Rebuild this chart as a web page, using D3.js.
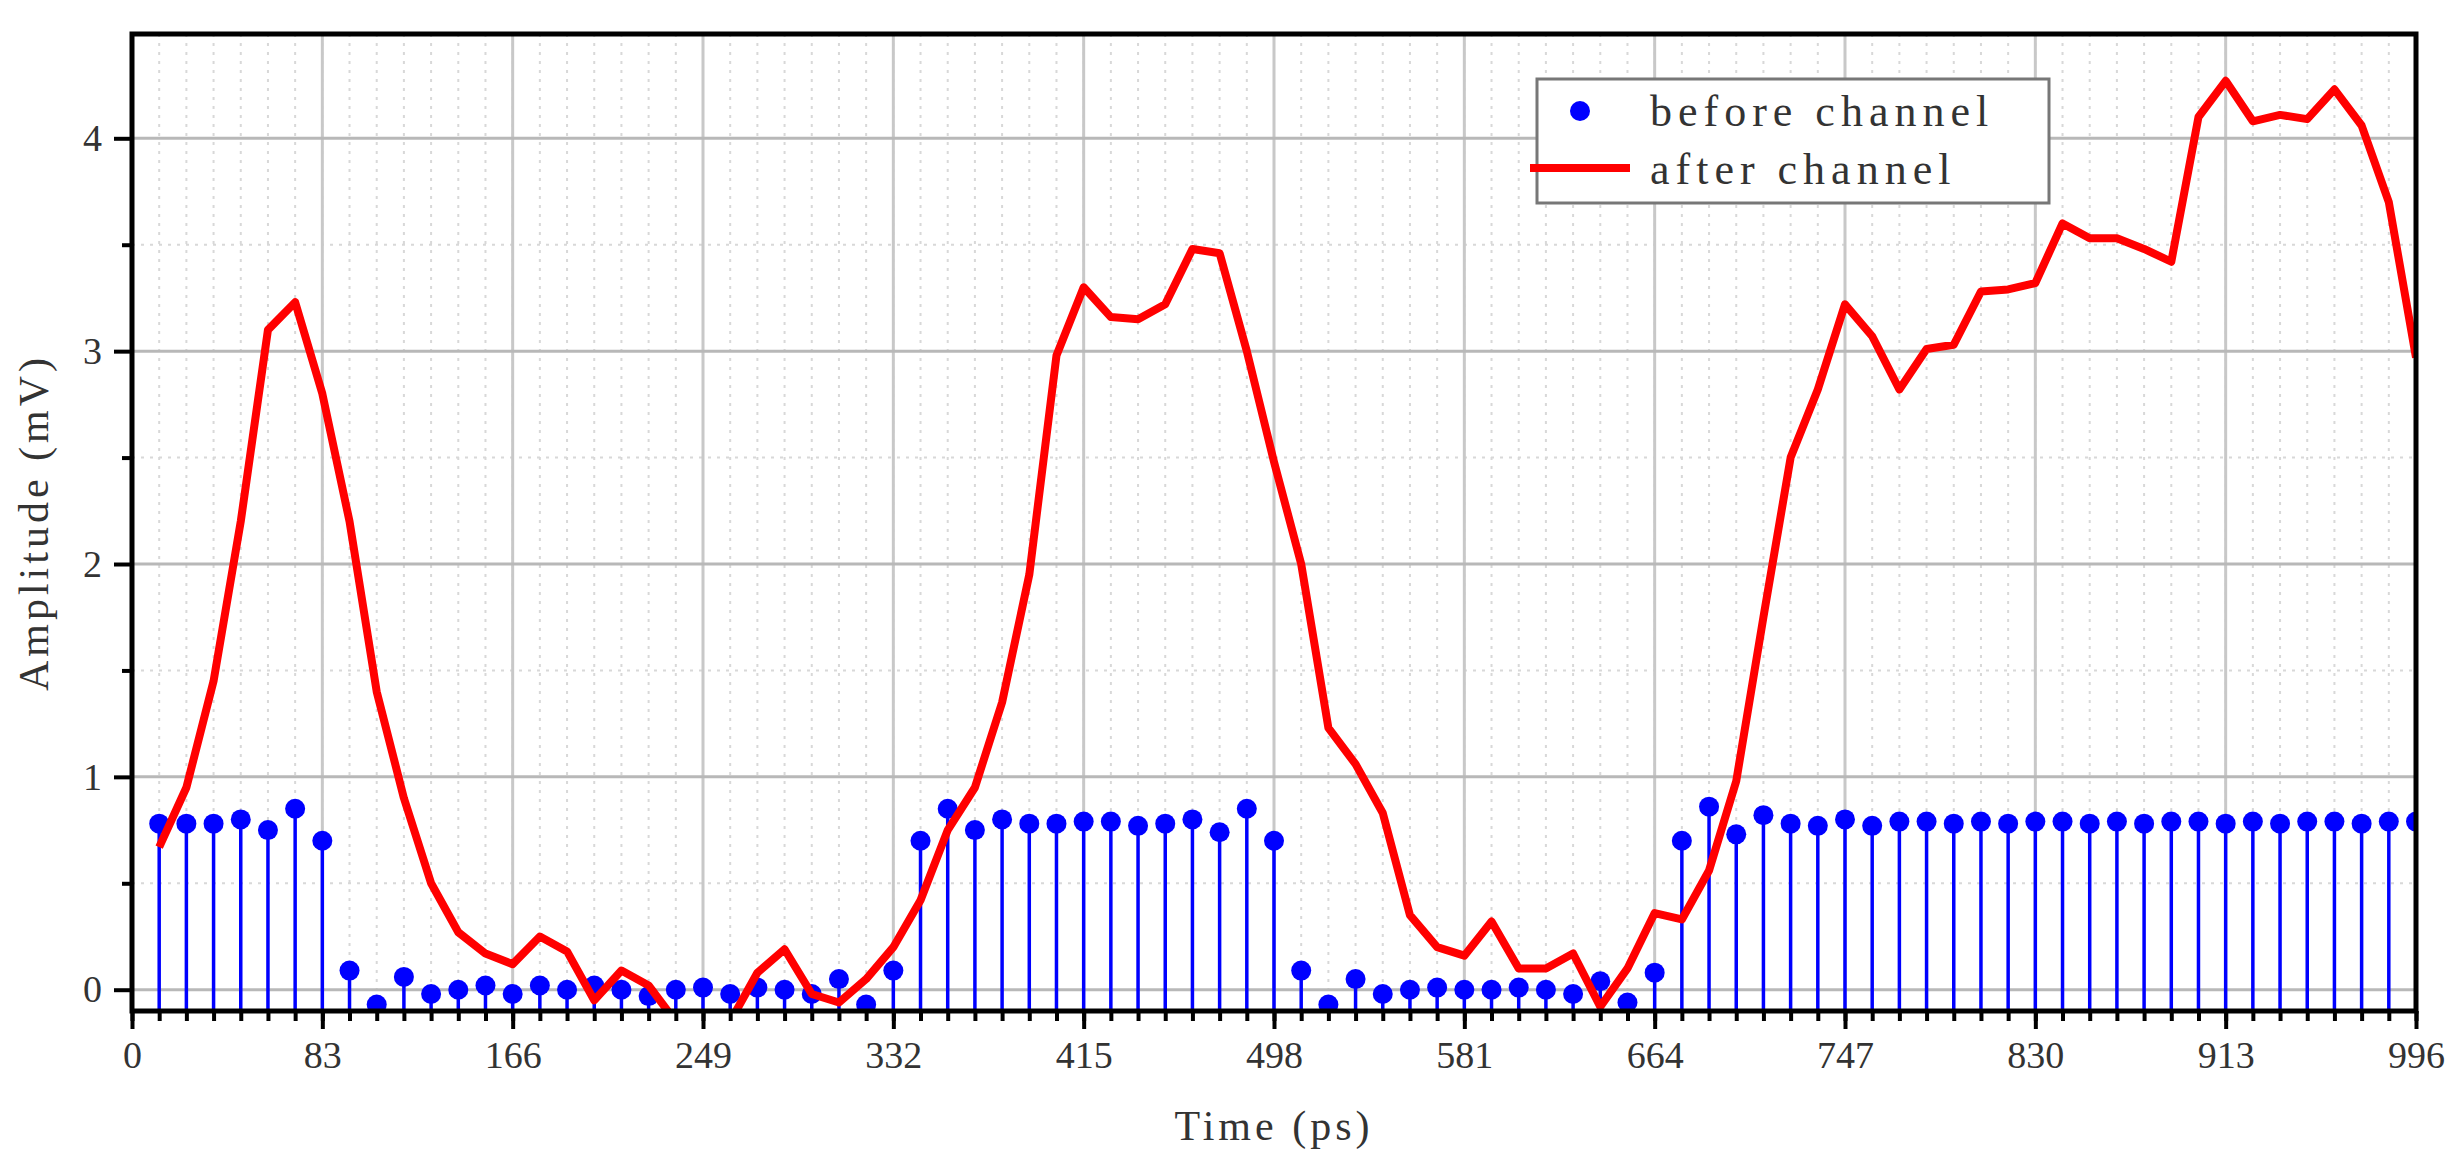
<!DOCTYPE html>
<html><head><meta charset="utf-8">
<script src="https://cdn.jsdelivr.net/npm/d3@7"></script>
<style>body{margin:0;background:#fff}svg{display:block}text{font-family:"Liberation Serif","DejaVu Serif",serif;fill:#333}</style>
</head><body><svg id="c" width="2446" height="1164"></svg>
<script>
const xTicks = [0,83,166,249,332,415,498,581,664,747,830,913,996];
const yTicks = [0,1,2,3,4];
const before = [0.78,0.78,0.78,0.80,0.75,0.85,0.70,
 0.09,-0.07,0.06,-0.02,0.00,0.02,-0.02,
 0.02,0.00,0.02,0.00,-0.03,0.00,0.01,
 -0.02,0.01,0.00,-0.02,0.05,-0.07,0.09,
 0.70,0.85,0.75,0.80,0.78,0.78,0.79,
 0.79,0.77,0.78,0.80,0.74,0.85,0.70,
 0.09,-0.07,0.05,-0.02,0.00,0.01,0.00,
 0.00,0.01,0.00,-0.02,0.04,-0.06,0.08,
 0.70,0.86,0.73,0.82,0.78,0.77,0.80,
 0.77,0.79,0.79,0.78,0.79,0.78,0.79,
 0.79,0.78,0.79,0.78,0.79,0.79,0.78,
 0.79,0.78,0.79,0.79,0.78,0.79,0.79];
const after = [0.67,0.95,1.45,2.2,3.1,3.23,2.8,
 2.2,1.4,0.9,0.5,0.27,0.17,0.12,
 0.25,0.18,-0.05,0.09,0.02,-0.15,-0.3,
 -0.15,0.08,0.19,-0.02,-0.06,0.05,0.2,
 0.42,0.75,0.95,1.35,1.95,2.98,3.3,
 3.16,3.15,3.22,3.48,3.46,3.0,2.48,
 2.0,1.23,1.06,0.83,0.35,0.2,0.16,
 0.32,0.1,0.1,0.17,-0.08,0.1,0.36,
 0.33,0.56,0.98,1.75,2.5,2.82,3.22,
 3.07,2.82,3.01,3.03,3.28,3.29,3.32,
 3.6,3.53,3.53,3.48,3.42,4.1,4.27,
 4.08,4.11,4.09,4.23,4.06,3.7,2.97];
const times = before.map((_,i)=>(i+1)*83/7);

const svg = d3.select("#c");
const L=132,R=2416,T=34,B=1011;
const x = d3.scaleLinear().domain([0,996]).range([L,R]);
const y = d3.scaleLinear().domain([-0.1,4.49]).range([B,T]);
svg.append("defs").append("clipPath").attr("id","clip").append("rect").attr("x",L).attr("y",T).attr("width",R-L).attr("height",B-T);

const minorX = d3.range(0,85).map(i=>i*83/7);
const g = svg.append("g");
g.selectAll(".mx").data(minorX).join("line").attr("x1",d=>x(d)).attr("x2",d=>x(d)).attr("y1",T).attr("y2",B)
 .attr("stroke","#d8d8d8").attr("stroke-width",2).attr("stroke-dasharray","3,6");
g.selectAll(".my").data([0.5,1.5,2.5,3.5]).join("line").attr("y1",d=>y(d)).attr("y2",d=>y(d)).attr("x1",L).attr("x2",R)
 .attr("stroke","#d8d8d8").attr("stroke-width",2).attr("stroke-dasharray","3,6");
g.selectAll(".gx").data(xTicks).join("line").attr("x1",d=>x(d)).attr("x2",d=>x(d)).attr("y1",T).attr("y2",B)
 .attr("stroke","#c8c8c8").attr("stroke-width",3);
g.selectAll(".gy").data(yTicks).join("line").attr("y1",d=>y(d)).attr("y2",d=>y(d)).attr("x1",L).attr("x2",R)
 .attr("stroke","#b8b8b8").attr("stroke-width",3);

const plot = svg.append("g").attr("clip-path","url(#clip)");
plot.selectAll(".stem").data(before).join("line").attr("x1",(d,i)=>x(times[i])).attr("x2",(d,i)=>x(times[i]))
 .attr("y1",B).attr("y2",d=>y(d)).attr("stroke","#0000ff").attr("stroke-width",3.5);
plot.selectAll(".dot").data(before).join("circle").attr("cx",(d,i)=>x(times[i])).attr("cy",d=>y(d)).attr("r",10).attr("fill","#0000ff");
plot.append("path").datum(after).attr("fill","none").attr("stroke","#ff0000").attr("stroke-width",8).attr("stroke-linejoin","round")
 .attr("d",d3.line().x((d,i)=>x(times[i])).y(d=>y(d)));

svg.append("g").attr("transform",`translate(0,${B})`)
 .call(d3.axisBottom(x).tickValues(xTicks).tickFormat(d3.format("d")).tickSize(18).tickPadding(12));
svg.append("g").attr("transform",`translate(0,${B})`).call(d3.axisBottom(x).tickValues(minorX).tickFormat("").tickSize(10));
svg.append("g").attr("transform",`translate(${L},0)`)
 .call(d3.axisLeft(y).tickValues(yTicks).tickFormat(d3.format("d")).tickSize(18).tickPadding(12));
svg.append("g").attr("transform",`translate(${L},0)`).call(d3.axisLeft(y).tickValues([0.5,1.5,2.5,3.5]).tickFormat("").tickSize(10));
svg.selectAll(".domain").remove();
svg.selectAll(".tick line").attr("stroke","#000").attr("stroke-width",4);
svg.selectAll(".tick text").attr("font-size",38).attr("fill","#444").style("font-family","Liberation Serif");
svg.append("rect").attr("x",L).attr("y",T).attr("width",R-L).attr("height",B-T).attr("fill","none").attr("stroke","#000").attr("stroke-width",5);

svg.append("text").attr("x",(L+R)/2).attr("y",1140).attr("text-anchor","middle").attr("font-size",42).attr("letter-spacing",4).text("Time (ps)");
svg.append("text").attr("transform",`translate(48,${(T+B)/2}) rotate(-90)`).attr("text-anchor","middle").attr("font-size",42).attr("letter-spacing",4).text("Amplitude (mV)");

const lg = svg.append("g");
lg.append("rect").attr("x",1537).attr("y",79).attr("width",512).attr("height",124).attr("fill","#fff").attr("stroke","#777").attr("stroke-width",3);
lg.append("circle").attr("cx",1580).attr("cy",111).attr("r",10).attr("fill","#0000ff");
lg.append("line").attr("x1",1530).attr("x2",1630).attr("y1",168).attr("y2",168).attr("stroke","#ff0000").attr("stroke-width",8);
lg.append("text").attr("x",1650).attr("y",126).attr("font-size",44).attr("letter-spacing",6).text("before channel");
lg.append("text").attr("x",1650).attr("y",184).attr("font-size",44).attr("letter-spacing",6).text("after channel");
</script></body></html>
